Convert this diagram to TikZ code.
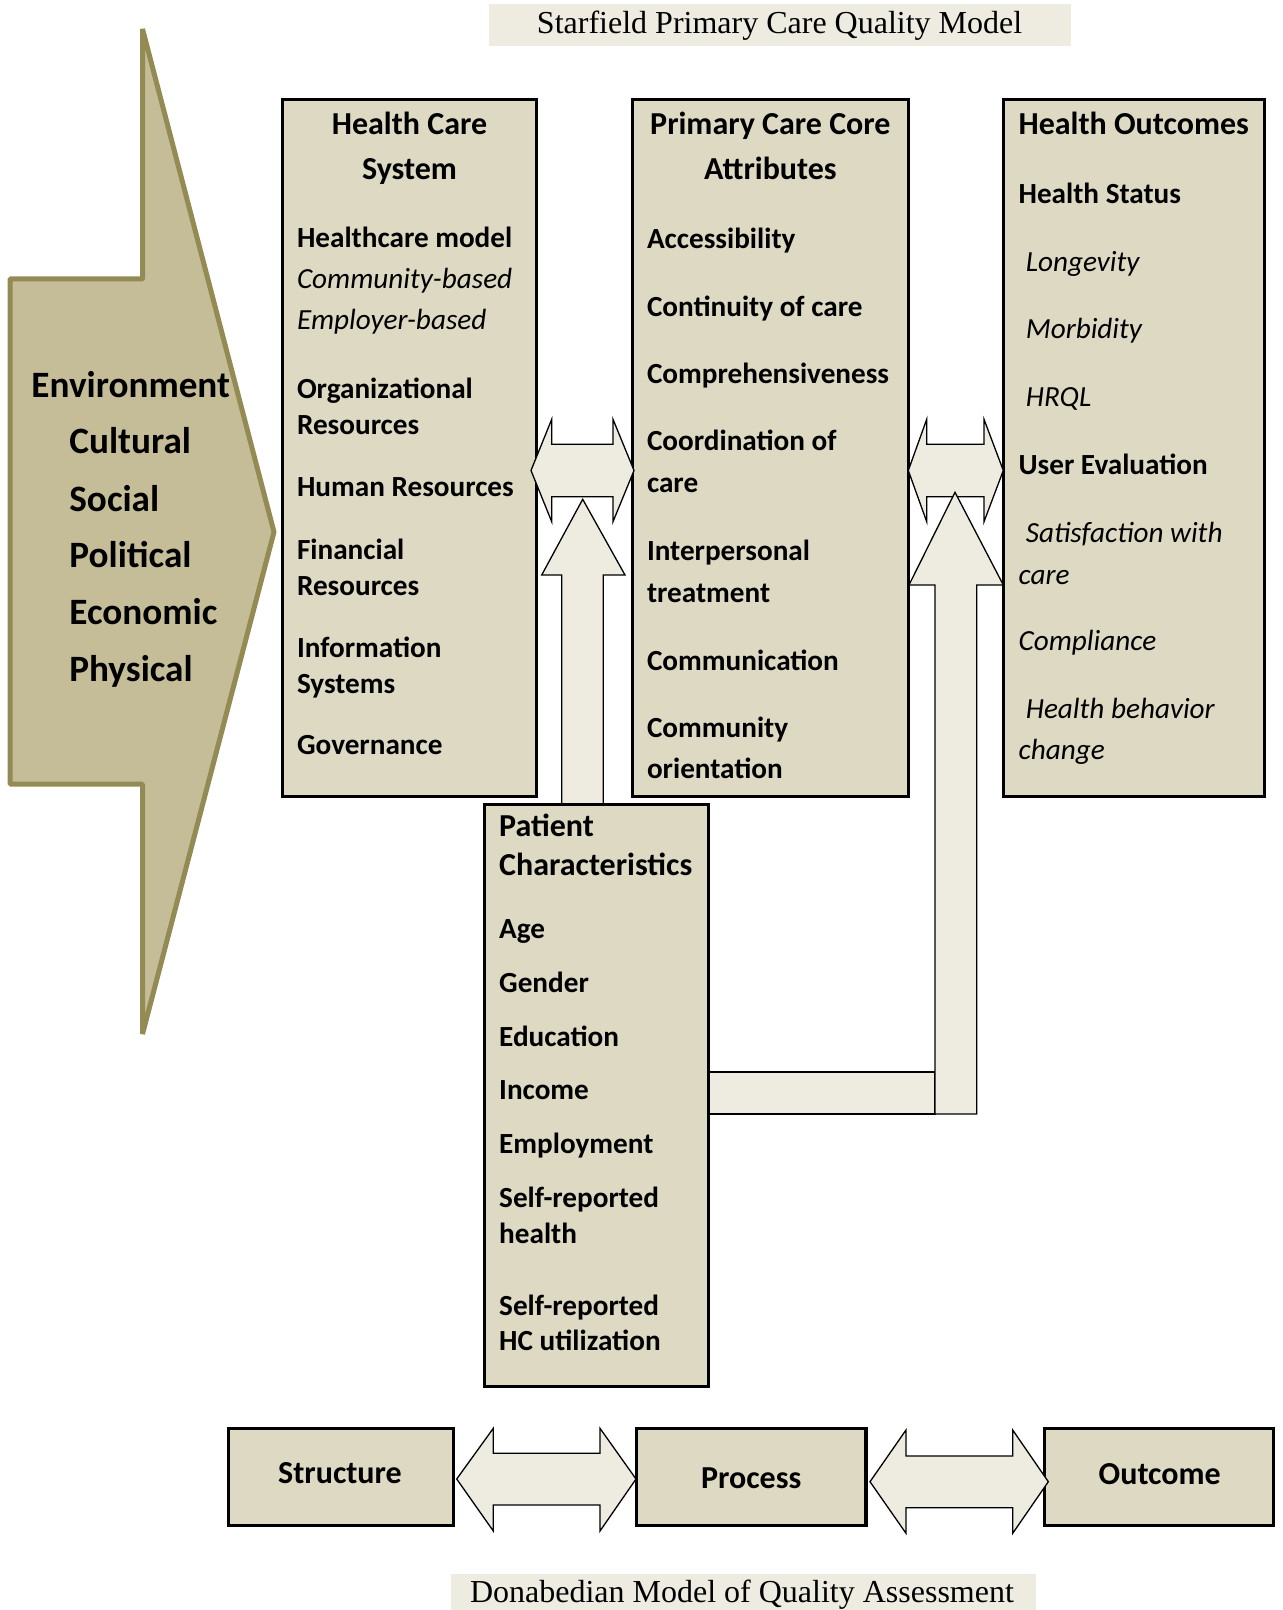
\documentclass[tikz,border=0pt]{standalone}
\usepackage{fontspec}
\setmainfont{Liberation Serif}
\newfontfamily\calib{Carlito}
\usetikzlibrary{fit}
\definecolor{boxfill}{HTML}{DDD9C3}
\definecolor{envfill}{HTML}{C4BD97}
\definecolor{envdraw}{HTML}{948A54}
\definecolor{arrfill}{HTML}{EEECE1}
\begin{document}
\begin{tikzpicture}[x=0.5pt,y=-0.5pt,
  panel/.style={draw=black, line width=1.6pt, fill=boxfill, inner sep=0pt, outer sep=0pt},
  band/.style={fill=arrfill, inner sep=0pt, outer sep=0pt},
  blockarrow/.style={draw=black, line width=0.65pt, fill=arrfill, line join=miter},
  item/.style={anchor=base west, inner sep=0pt, font=\calib\bfseries\fontsize{14.6}{17}\selectfont},
  itemit/.style={anchor=base west, inner sep=0pt, font=\calib\itshape\fontsize{14.6}{17}\selectfont},
  head/.style={anchor=base, inner sep=0pt, font=\calib\bfseries\fontsize{16}{19}\selectfont},
  headl/.style={anchor=base west, inner sep=0pt, font=\calib\bfseries\fontsize{16}{19}\selectfont},
  envtext/.style={anchor=base west, inner sep=0pt, font=\calib\bfseries\fontsize{18.6}{22}\selectfont},
  stage/.style={anchor=center, inner sep=0pt, font=\calib\bfseries\fontsize{16}{19}\selectfont},
  caption/.style={anchor=base, inner sep=0pt, font=\fontsize{16}{19}\selectfont}
]
\useasboundingbox (0,0) rectangle (1282,1610);

% titles
\node[band, fit={(488.6,4) (1070.5,46)}] (toptitle) {};
\node[caption] (toptext) at (779.6,33.5) {Starfield Primary Care Quality Model};
\node[band, fit={(451,1574) (1036,1610)}] (bottitle) {};
\node[caption] (bottext) at (742,1602) {Donabedian Model of Quality Assessment};

% environment arrow
\draw[fill=envfill, draw=envdraw, line width=2.5pt, line join=bevel]
  (142.5,29) -- (274,532) -- (142.5,1034) -- (142.5,784) -- (10,784) -- (10,279) -- (142.5,279) -- cycle;
\node[envtext] (env) at (31,397.7) {Environment};
\node[envtext] (cult) at (69,453.7) {Cultural};
\node[envtext] (soc) at (69,511) {Social};
\node[envtext] (pol) at (69,567.7) {Political};
\node[envtext] (eco) at (69,624.7) {Economic};
\node[envtext] (phy) at (69,681.7) {Physical};

% top boxes
\node[panel, fit={(282.3,99.3) (536.8,796.5)}] (hcs) {};
\node[panel, fit={(632.3,99.3) (908.4,796.5)}] (pcc) {};
\node[panel, fit={(1003.8,99.3) (1264.5,796.5)}] (ho) {};

% block arrows between boxes
\draw[blockarrow] (531,470.5) -- (551.7,419.3) -- (551.7,444.3) -- (613,444.3) -- (613,419.3) -- (634,470.5)
  -- (613,521.7) -- (613,496.7) -- (551.7,496.7) -- (551.7,521.7) -- cycle;
\draw[blockarrow] (908.3,470.5) -- (926.7,419.3) -- (926.7,444.3) -- (984,444.3) -- (984,419.3) -- (1003.3,470.5)
  -- (984,521.7) -- (984,496.7) -- (926.7,496.7) -- (926.7,521.7) -- cycle;
\draw[blockarrow] (561.7,806) -- (561.7,575) -- (541.7,575) -- (582.7,499.3) -- (625,575) -- (603.3,575) -- (603.3,806) -- cycle;
\draw[blockarrow] (708.3,1072) rectangle (935,1114);
\draw[blockarrow] (935,1114) -- (935,585) -- (909,585) -- (955,492.3) -- (1003.3,585) -- (976.7,585) -- (976.7,1114) -- cycle;

% patient box
\node[panel, fit={(484.5,804.7) (708.2,1386.7)}] (pat) {};

% Health Care System
\node[head] (hcs1) at (409.5,134.3) {Health Care};
\node[head] (hcs2) at (409.5,179.3) {System};
\node[item] (hcs3) at (296.6,247.4) {Healthcare model};
\node[itemit] (hcs4) at (296.6,288.4) {Community-based};
\node[itemit] (hcs5) at (296.6,329.4) {Employer-based};
\node[item] (hcs6) at (296.6,398.4) {Organizational};
\node[item] (hcs7) at (296.6,434.4) {Resources};
\node[item] (hcs8) at (296.6,496) {Human Resources};
\node[item] (hcs9) at (296.6,559.4) {Financial};
\node[item] (hcs10) at (296.6,595.4) {Resources};
\node[item] (hcs11) at (296.6,657) {Information};
\node[item] (hcs12) at (296.6,693) {Systems};
\node[item] (hcs13) at (296.6,754.4) {Governance};

% Primary Care Core Attributes
\node[head] (pcc1) at (770.4,134.3) {Primary Care Core};
\node[head] (pcc2) at (770.4,179.3) {Attributes};
\node[item] (pcc3) at (646.6,248.4) {Accessibility};
\node[item] (pcc4) at (646.6,316.4) {Continuity of care};
\node[item] (pcc5) at (646.6,384) {Comprehensiveness};
\node[item] (pcc6) at (646.6,450.4) {Coordination of};
\node[item] (pcc7) at (646.6,492.8) {care};
\node[item] (pcc8) at (646.6,560.4) {Interpersonal};
\node[item] (pcc9) at (646.6,602.4) {treatment};
\node[item] (pcc10) at (646.6,670.4) {Communication};
\node[item] (pcc11) at (646.6,737.1) {Community};
\node[item] (pcc12) at (646.6,778.2) {orientation};

% Health Outcomes
\node[head] (ho1) at (1133.7,134.3) {Health Outcomes};
\node[item] (ho2) at (1018.2,203.4) {Health Status};
\node[itemit] (ho3) at (1025.4,271.1) {Longevity};
\node[itemit] (ho4) at (1025.4,338.9) {Morbidity};
\node[itemit] (ho5) at (1025.4,406.4) {HRQL};
\node[item] (ho6) at (1018.2,474.4) {User Evaluation};
\node[itemit] (ho7) at (1025.4,542.1) {Satisfaction with};
\node[itemit] (ho8) at (1018.2,584.2) {care};
\node[itemit] (ho9) at (1018.2,650.9) {Compliance};
\node[itemit] (ho10) at (1025.4,718.4) {Health behavior};
\node[itemit] (ho11) at (1018.2,759.7) {change};

% Patient Characteristics
\node[headl] (pat1) at (498.8,836.3) {Patient};
\node[headl] (pat2) at (498.8,875.3) {Characteristics};
\node[item] (pat3) at (498.8,938.4) {Age};
\node[item] (pat4) at (498.8,992.4) {Gender};
\node[item] (pat5) at (498.8,1046.1) {Education};
\node[item] (pat6) at (498.8,1099.4) {Income};
\node[item] (pat7) at (498.8,1153.8) {Employment};
\node[item] (pat8) at (498.8,1207.2) {Self-reported};
\node[item] (pat9) at (498.8,1243.1) {health};
\node[item] (pat10) at (498.8,1315) {Self-reported};
\node[item] (pat11) at (498.8,1350.9) {HC utilization};

% Donabedian row
\node[panel, fit={(228.3,1428.3) (453.3,1525.7)}] (str) {};
\node[panel, fit={(636.7,1428.3) (866,1525.7)}] (pro) {};
\node[panel, fit={(1044.3,1428.3) (1273.5,1525.7)}] (out) {};
\node[stage] (strt) at (340,1473) {Structure};
\node[stage] (prot) at (751.2,1478) {Process};
\node[stage] (outt) at (1159.7,1474) {Outcome};
\draw[blockarrow] (456.7,1479) -- (493.3,1428.3) -- (493.3,1453.3) -- (600,1453.3) -- (600,1428.3) -- (636,1479)
  -- (600,1531) -- (600,1505) -- (493.3,1505) -- (493.3,1531) -- cycle;
\draw[blockarrow] (870,1481.7) -- (906,1430) -- (906,1456) -- (1012.7,1456) -- (1012.7,1430) -- (1048.3,1481.7)
  -- (1012.7,1533.3) -- (1012.7,1507.7) -- (906,1507.7) -- (906,1533.3) -- cycle;
\end{tikzpicture}
\end{document}
